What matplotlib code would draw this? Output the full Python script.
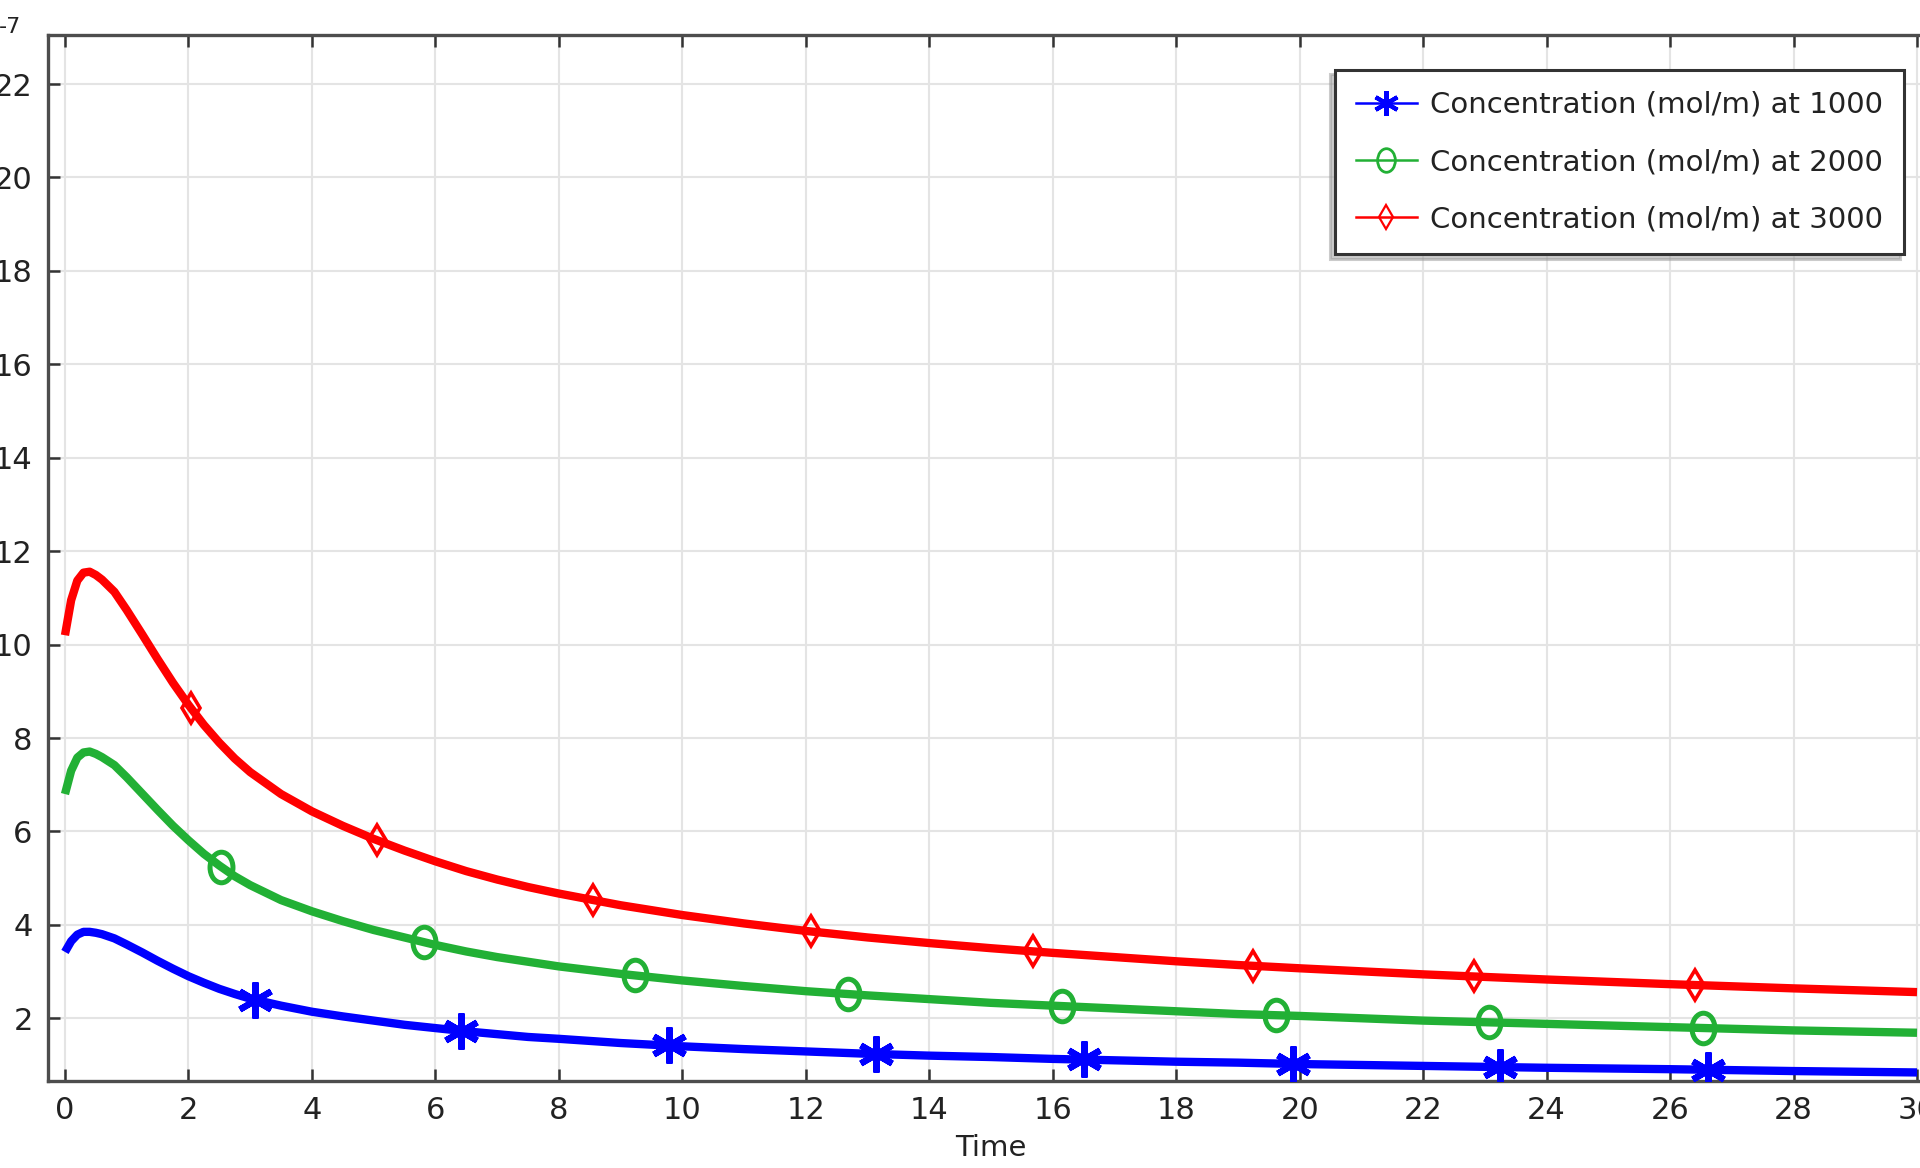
import matplotlib
matplotlib.use("Agg")
import matplotlib.pyplot as plt
from matplotlib.lines import Line2D
from matplotlib.path import Path

# Time axis and concentration curves (values in units of 1e-7)
time = [0, 0.1, 0.2, 0.3, 0.4, 0.5, 0.6, 0.8, 1.0, 1.25, 1.5, 1.75, 2.0,
        2.25, 2.5, 2.75, 3.0, 3.5, 4.0, 4.5, 5.0, 5.5, 6.0, 6.5, 7.0, 7.5,
        8.0, 9, 10, 11, 12, 13, 14, 15, 16, 17, 18, 19, 20, 22, 24, 26, 28,
        30]
conc_1000 = [3.42, 3.65, 3.79, 3.85, 3.85, 3.83, 3.80, 3.71, 3.58, 3.41,
             3.23, 3.06, 2.90, 2.76, 2.63, 2.52, 2.42, 2.27, 2.14, 2.04, 1.95,
             1.86, 1.79, 1.72, 1.66, 1.60, 1.56, 1.47, 1.40, 1.34, 1.29, 1.24,
             1.20, 1.17, 1.13, 1.10, 1.07, 1.05, 1.02, 0.98, 0.94, 0.91, 0.87,
             0.84]
conc_2000 = [6.80, 7.30, 7.58, 7.69, 7.71, 7.66, 7.59, 7.42, 7.16, 6.81,
             6.46, 6.12, 5.81, 5.52, 5.27, 5.04, 4.85, 4.53, 4.29, 4.08, 3.89,
             3.73, 3.57, 3.43, 3.31, 3.21, 3.11, 2.95, 2.81, 2.69, 2.58, 2.49,
             2.41, 2.33, 2.27, 2.21, 2.15, 2.09, 2.05, 1.95, 1.88, 1.81, 1.74,
             1.69]
conc_3000 = [10.20, 10.95, 11.37, 11.54, 11.56, 11.49, 11.39, 11.13, 10.74,
             10.22, 9.69, 9.18, 8.71, 8.28, 7.90, 7.56, 7.27, 6.80, 6.43, 6.12,
             5.84, 5.59, 5.36, 5.15, 4.97, 4.81, 4.67, 4.42, 4.21, 4.03, 3.87,
             3.73, 3.61, 3.50, 3.40, 3.31, 3.22, 3.14, 3.07, 2.94, 2.83, 2.73,
             2.64, 2.56]

# Marker positions along each curve
mark_t_1000 = [3.08, 6.42, 9.78, 13.14, 16.50, 19.89, 23.24, 26.62]
mark_c_1000 = [2.40, 1.73, 1.42, 1.24, 1.12, 1.02, 0.96, 0.90]
mark_t_2000 = [2.53, 5.82, 9.23, 12.68, 16.15, 19.61, 23.06, 26.53]
mark_c_2000 = [5.24, 3.63, 2.92, 2.52, 2.26, 2.07, 1.91, 1.79]
mark_t_3000 = [2.04, 5.05, 8.55, 12.08, 15.68, 19.25, 22.82, 26.40]
mark_c_3000 = [8.64, 5.82, 4.53, 3.86, 3.43, 3.12, 2.90, 2.71]

labels = ["Concentration (mol/m) at 1000",
          "Concentration (mol/m) at 2000",
          "Concentration (mol/m) at 3000"]
x_ticks = list(range(0, 31, 2))
y_ticks = list(range(2, 23, 2))

BLUE = "#0000ff"
GREEN = "#22b035"
RED = "#ff0000"
SPINE = "#4d4d4d"

plt.rcParams["font.family"] = ["DejaVu Sans"]

W, H = 1920, 1168
fig = plt.figure(figsize=(W / 100, H / 100), dpi=100)
ax = fig.add_axes([48 / W, 1 - 1081 / H, (1934 - 48) / W, (1081 - 35) / H])

# tall ellipse marker for the 2000 curve
circ = Path.unit_circle()
ellipse = Path(circ.vertices * [0.75, 1.0], circ.codes)
asterisk = (6, 2, 0)

lw = 6.0
for conc, col in ((conc_3000, RED), (conc_2000, GREEN), (conc_1000, BLUE)):
    ax.plot(time, conc, color=col, lw=lw, solid_capstyle="butt",
            solid_joinstyle="round", zorder=3)

ax.plot(mark_t_3000, mark_c_3000, ls="none", marker="d", ms=15.5,
        mfc="none", mec=RED, mew=2.6, zorder=4)
ax.plot(mark_t_2000, mark_c_2000, ls="none", marker=ellipse, ms=22,
        mfc="none", mec=GREEN, mew=3.6, zorder=4)
ax.plot(mark_t_1000, mark_c_1000, ls="none", marker=asterisk, ms=26,
        mfc="none", mec=BLUE, mew=4.5, zorder=4)

ax.set_xlim(-0.275, 30.275)
ax.set_ylim(0.657, 23.05)
ax.set_xticks(x_ticks)
ax.set_yticks(y_ticks)

ax.grid(True, color="#e4e4e4", lw=1.5, zorder=0)
ax.set_axisbelow(True)

for side in ("left", "bottom", "top", "right"):
    ax.spines[side].set_color(SPINE)
    ax.spines[side].set_linewidth(2.4)

ax.tick_params(axis="both", which="major", direction="in", length=8.5,
               width=1.8, color="#333333", labelsize=22, labelcolor="#222222",
               pad=11, top=True, right=True)

ax.set_xlabel("Time", fontsize=21, color="#222222", labelpad=6)

fig.text(21 / W, 1 - 27 / H, "-7", fontsize=16, color="#222222",
         ha="right", va="center")

handles = [
    Line2D([], [], color=BLUE, lw=1.8, marker=asterisk, ms=18, mec=BLUE,
           mew=3.0, mfc="none"),
    Line2D([], [], color=GREEN, lw=1.8, marker=ellipse, ms=17, mec=GREEN,
           mew=2.0, mfc="none"),
    Line2D([], [], color=RED, lw=1.8, marker="d", ms=12, mec=RED,
           mew=1.6, mfc="none"),
]
leg = ax.legend(handles, labels, loc="upper right",
                bbox_to_anchor=(1904 / W, 1 - 70 / H),
                bbox_transform=fig.transFigure, borderaxespad=0,
                fontsize=21, frameon=True, fancybox=False,
                shadow={"ox": -3, "oy": -3, "shade": 0.4},
                handlelength=2.1, handletextpad=0.45, labelspacing=1.0,
                borderpad=0.72)
leg.get_frame().set_edgecolor("#333333")
leg.get_frame().set_linewidth(2.2)
for t in leg.get_texts():
    t.set_color("#222222")

fig.savefig("out.png", dpi=100)
